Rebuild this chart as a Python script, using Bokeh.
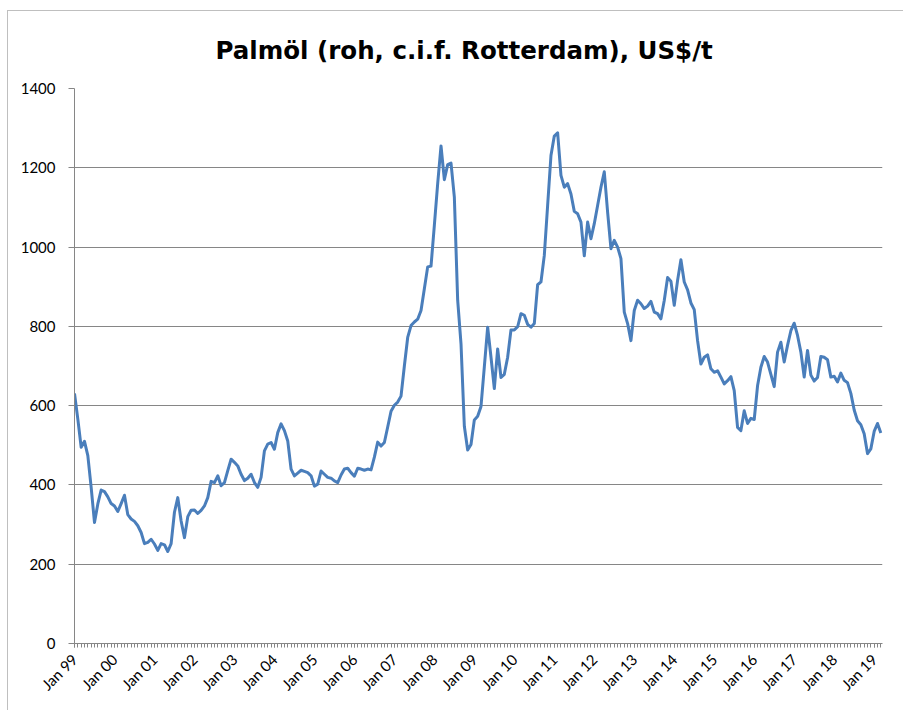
import math
from bokeh.plotting import figure
from bokeh.models import FixedTicker, Range1d, ColumnDataSource
from bokeh.embed import file_html
from bokeh.resources import INLINE

# Monthly price, US$/t, Jan 1999 .. Mar 2019
y1999 = [631, 566, 495, 510, 474, 394, 305, 352, 387, 383, 370, 353]
y2000 = [347, 333, 353, 374, 325, 314, 308, 297, 280, 252, 255, 263]
y2001 = [251, 235, 252, 249, 232, 252, 331, 368, 309, 267, 320, 336]
y2002 = [337, 328, 336, 347, 368, 409, 406, 423, 398, 406, 436, 465]
y2003 = [457, 448, 427, 411, 417, 427, 406, 394, 419, 486, 503, 507]
y2004 = [490, 532, 554, 537, 511, 440, 423, 430, 437, 434, 431, 423]
y2005 = [397, 402, 435, 427, 419, 417, 410, 406, 425, 440, 442, 431]
y2006 = [422, 442, 440, 437, 440, 438, 470, 508, 498, 507, 546, 586]
y2007 = [601, 609, 624, 700, 772, 802, 811, 818, 840, 895, 950, 952]
y2008 = [1055, 1160, 1255, 1170, 1208, 1212, 1126, 866, 756, 548, 488, 502]
y2009 = [564, 573, 598, 698, 798, 722, 643, 743, 671, 679, 722, 791]
y2010 = [791, 799, 832, 828, 805, 798, 807, 905, 912, 979, 1105, 1231]
y2011 = [1280, 1288, 1181, 1151, 1160, 1134, 1090, 1084, 1063, 978, 1063, 1021]
y2012 = [1059, 1105, 1151, 1190, 1088, 996, 1017, 1000, 971, 836, 807, 764]
y2013 = [840, 866, 857, 845, 851, 863, 836, 832, 819, 865, 923, 914]
y2014 = [853, 916, 968, 912, 892, 859, 842, 764, 705, 722, 728, 693]
y2015 = [684, 688, 672, 655, 663, 673, 638, 545, 537, 587, 555, 568]
y2016 = [565, 650, 697, 724, 710, 679, 648, 735, 760, 710, 752, 789]
y2017 = [808, 777, 735, 672, 739, 677, 662, 671, 724, 722, 716, 672]
y2018 = [674, 660, 682, 664, 658, 631, 589, 562, 552, 529, 479, 491]
y2019 = [535, 555, 531]

prices = (y1999 + y2000 + y2001 + y2002 + y2003 + y2004 + y2005 + y2006 + y2007
          + y2008 + y2009 + y2010 + y2011 + y2012 + y2013 + y2014 + y2015 + y2016
          + y2017 + y2018 + y2019)
months = list(range(len(prices)))

title_text = "Palmöl (roh, c.i.f. Rotterdam), US$/t"
tick_labels = ["Jan 99", "Jan 00", "Jan 01", "Jan 02", "Jan 03", "Jan 04", "Jan 05",
               "Jan 06", "Jan 07", "Jan 08", "Jan 09", "Jan 10", "Jan 11", "Jan 12",
               "Jan 13", "Jan 14", "Jan 15", "Jan 16", "Jan 17", "Jan 18", "Jan 19"]
y_ticks = [0, 200, 400, 600, 800, 1000, 1200, 1400]

FONT = "Lato"
GRID = "#868686"

p = figure(width=896, height=700, output_backend="svg", toolbar_location=None,
           x_range=Range1d(0, 242.5), y_range=Range1d(0, 1400),
           min_border_left=66, min_border_right=22, min_border_top=77,
           min_border_bottom=68)
p.styles = {"margin-left": "7px", "margin-top": "10px",
            "border-top": "1px solid #BFBFBF", "border-left": "1px solid #BFBFBF"}

p.title.text = title_text
p.title.align = "left"
p.title.offset = 141
p.title.vertical_align = "top"
p.title.text_font = "DejaVu Sans"
p.title.text_font_size = "24.5px"
p.title.text_font_style = "bold"
p.title.text_color = "#000000"
p.title.standoff = 44

src = ColumnDataSource(dict(m=months, v=prices))
p.line("m", "v", source=src, line_color="#4A7EBB", line_width=3, line_join="round")

p.outline_line_color = None
p.background_fill_color = "white"
p.border_fill_color = "white"

# x axis
xa = p.xaxis[0]
xa.ticker = FixedTicker(ticks=[12 * i for i in range(len(tick_labels))],
                        minor_ticks=months)
xa.major_label_overrides = {12 * i: t for i, t in enumerate(tick_labels)}
xa.major_label_orientation = math.pi / 4
xa.axis_line_color = GRID
xa.major_tick_line_color = GRID
xa.minor_tick_line_color = GRID
xa.major_tick_out = 4
xa.major_tick_in = 0
xa.minor_tick_out = 4
xa.minor_tick_in = 0
xa.major_label_standoff = 9
xa.major_label_text_font = FONT
xa.major_label_text_font_size = "15px"
xa.major_label_text_color = "#000000"

# y axis
ya = p.yaxis[0]
ya.ticker = FixedTicker(ticks=y_ticks, minor_ticks=[])
ya.axis_line_color = GRID
ya.major_tick_line_color = GRID
ya.major_tick_out = 6
ya.major_tick_in = 0
ya.minor_tick_line_color = None
ya.major_label_standoff = 13
ya.major_label_text_font = FONT
ya.major_label_text_font_size = "15px"
ya.major_label_text_color = "#000000"

p.xgrid.grid_line_color = None
p.ygrid.ticker = FixedTicker(ticks=y_ticks)
p.ygrid.grid_line_color = GRID
p.ygrid.grid_line_width = 1

open("out.html", "w").write(file_html(p, INLINE))
